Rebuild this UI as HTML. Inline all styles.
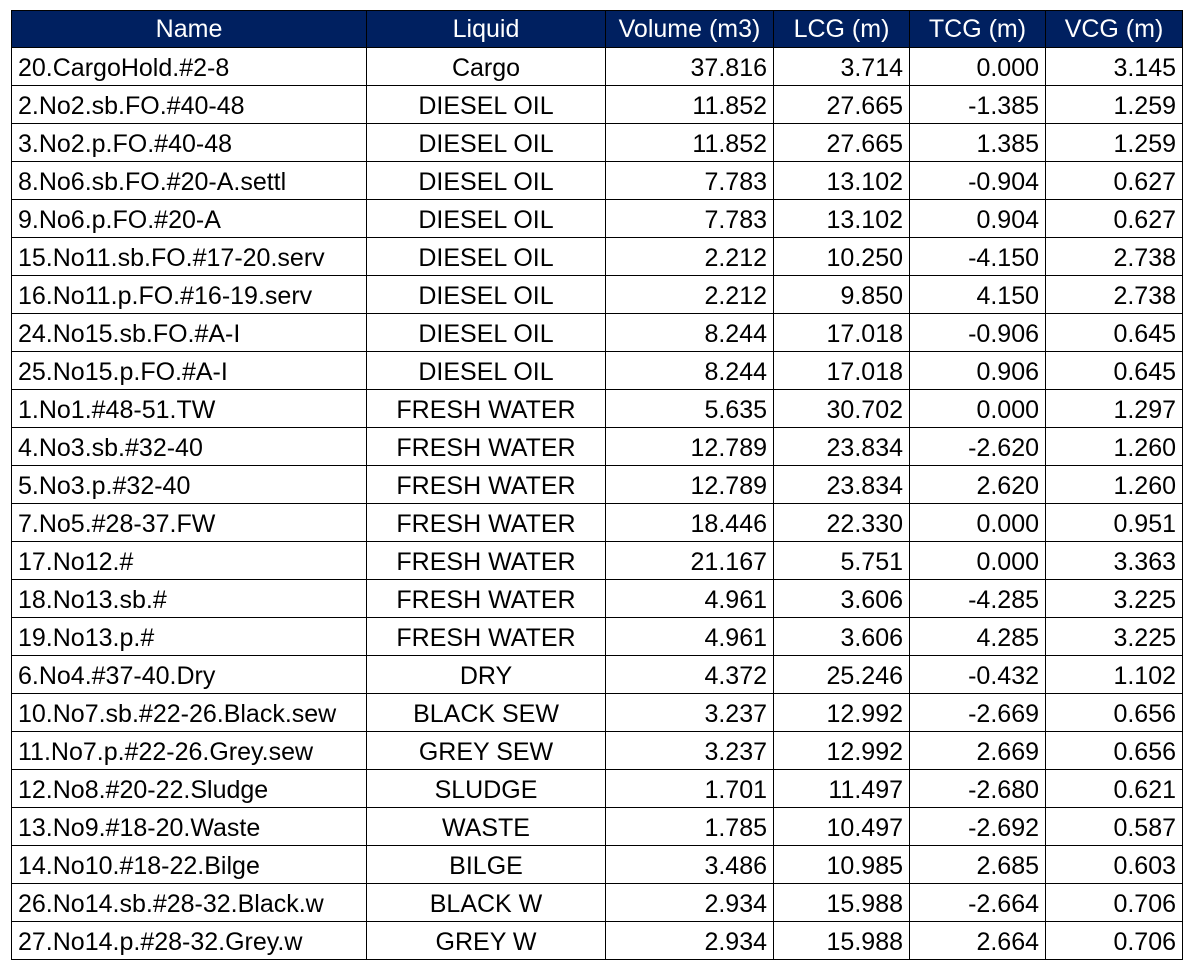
<!DOCTYPE html>
<html><head><meta charset="utf-8">
<style>
html,body{margin:0;padding:0;background:#fff;width:1197px;height:973px;overflow:hidden}
table{position:absolute;left:11px;top:10px;border-collapse:collapse;table-layout:fixed;font-family:"Liberation Sans",sans-serif;font-size:25px;letter-spacing:0px;color:#000}
td,th{border:1.3px solid #000;padding:0 6px;white-space:nowrap;overflow:hidden;box-sizing:border-box}
th{background:#002060;color:#fff;font-weight:normal;text-align:center;height:37px;line-height:34px}
td.l{text-align:left}td.c{text-align:center}td.r{text-align:right}
tbody td{height:38px;line-height:34px;padding-top:2px;padding-bottom:0}
</style></head><body>
<table>
<colgroup><col style="width:355px"><col style="width:239px"><col style="width:168px"><col style="width:136px"><col style="width:136px"><col style="width:137px"></colgroup>
<thead><tr>
<th>Name</th>
<th>Liquid</th>
<th>Volume (m3)</th>
<th>LCG (m)</th>
<th>TCG (m)</th>
<th>VCG (m)</th>
</tr></thead>
<tbody id="tb"></tbody>
</table>
<script>
const names=["20.CargoHold.#2-8","2.No2.sb.FO.#40-48","3.No2.p.FO.#40-48","8.No6.sb.FO.#20-A.settl","9.No6.p.FO.#20-A","15.No11.sb.FO.#17-20.serv","16.No11.p.FO.#16-19.serv","24.No15.sb.FO.#A-I","25.No15.p.FO.#A-I","1.No1.#48-51.TW","4.No3.sb.#32-40","5.No3.p.#32-40","7.No5.#28-37.FW","17.No12.#","18.No13.sb.#","19.No13.p.#","6.No4.#37-40.Dry","10.No7.sb.#22-26.Black.sew","11.No7.p.#22-26.Grey.sew","12.No8.#20-22.Sludge","13.No9.#18-20.Waste","14.No10.#18-22.Bilge","26.No14.sb.#28-32.Black.w","27.No14.p.#28-32.Grey.w"];
const liquids=["Cargo","DIESEL OIL","DIESEL OIL","DIESEL OIL","DIESEL OIL","DIESEL OIL","DIESEL OIL","DIESEL OIL","DIESEL OIL","FRESH WATER","FRESH WATER","FRESH WATER","FRESH WATER","FRESH WATER","FRESH WATER","FRESH WATER","DRY","BLACK SEW","GREY SEW","SLUDGE","WASTE","BILGE","BLACK W","GREY W"];
const volumes=["37.816","11.852","11.852","7.783","7.783","2.212","2.212","8.244","8.244","5.635","12.789","12.789","18.446","21.167","4.961","4.961","4.372","3.237","3.237","1.701","1.785","3.486","2.934","2.934"];
const lcgs=["3.714","27.665","27.665","13.102","13.102","10.250","9.850","17.018","17.018","30.702","23.834","23.834","22.330","5.751","3.606","3.606","25.246","12.992","12.992","11.497","10.497","10.985","15.988","15.988"];
const tcgs=["0.000","-1.385","1.385","-0.904","0.904","-4.150","4.150","-0.906","0.906","0.000","-2.620","2.620","0.000","0.000","-4.285","4.285","-0.432","-2.669","2.669","-2.680","-2.692","2.685","-2.664","2.664"];
const vcgs=["3.145","1.259","1.259","0.627","0.627","2.738","2.738","0.645","0.645","1.297","1.260","1.260","0.951","3.363","3.225","3.225","1.102","0.656","0.656","0.621","0.587","0.603","0.706","0.706"];
const tb=document.getElementById('tb');
const cols=[[names,'l','name-cell'],[liquids,'c','liquid-cell'],[volumes,'r','volume-cell'],[lcgs,'r','lcg-cell'],[tcgs,'r','tcg-cell'],[vcgs,'r','vcg-cell']];
for(let i=0;i<names.length;i++){
  const tr=document.createElement('tr');
  
  
  for(const [arr,cls,nm] of cols){
    const td=document.createElement('td');
    td.className=cls;
    td.textContent=arr[i];
    
    
    tr.appendChild(td);
  }
  tb.appendChild(tr);
}
</script>
</body></html>
